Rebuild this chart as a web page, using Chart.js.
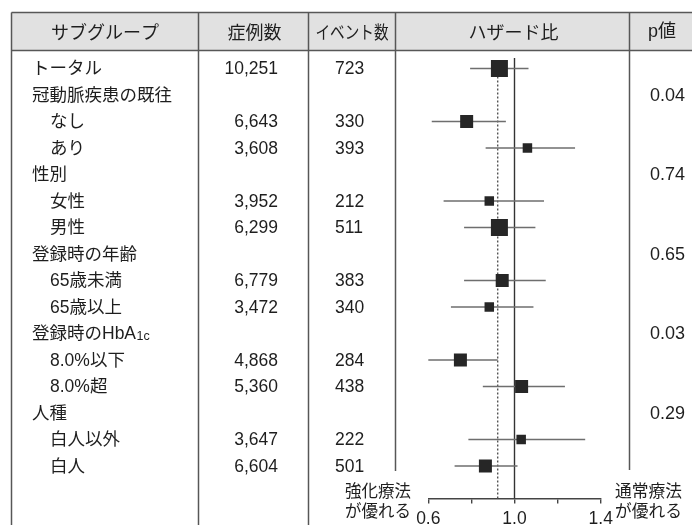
<!DOCTYPE html>
<html><head><meta charset="utf-8">
<script src="https://cdn.jsdelivr.net/npm/chart.js@4"></script>
<style>html,body{margin:0;padding:0;background:#fff;}canvas{display:block;}</style>
</head><body>
<div style="width:692px;height:525px;position:relative"><canvas id="c" width="692" height="525"></canvas></div>
<script>
// ---------- data ----------
const headers = ['サブグループ', '症例数', 'イベント数', 'ハザード比', 'p値'];
const subgroups = ['トータル', '冠動脈疾患の既往', 'なし', 'あり', '性別', '女性', '男性', '登録時の年齢', '65歳未満', '65歳以上', '登録時のHbA1c', '8.0%以下', '8.0%超', '人種', '白人以外', '白人'];
const levels = [0, 0, 1, 1, 0, 1, 1, 0, 1, 1, 0, 1, 1, 0, 1, 1];
const cases = ['10,251', '', '6,643', '3,608', '', '3,952', '6,299', '', '6,779', '3,472', '', '4,868', '5,360', '', '3,647', '6,604'];
const events = ['723', '', '330', '393', '', '212', '511', '', '383', '340', '', '284', '438', '', '222', '501'];
const pValues = ['', '0.04', '', '', '0.74', '', '', '0.65', '', '', '0.03', '', '', '0.29', '', ''];
const hazardRatio = [0.930, null, 0.778, 1.060, null, 0.883, 0.930, null, 0.943, 0.883, null, 0.749, 1.033, null, 1.031, 0.865];
const ciLower = [0.794, null, 0.616, 0.866, null, 0.671, 0.766, null, 0.766, 0.705, null, 0.586, 0.853, null, 0.786, 0.722];
const ciUpper = [1.065, null, 0.960, 1.281, null, 1.137, 1.097, null, 1.145, 1.088, null, 0.922, 1.234, null, 1.328, 1.014];
const overallHR = 0.922;
const nullHR = 1.0;
const tickValues = [0.6, 0.8, 1.0, 1.2, 1.4];
const tickLabels = ['0.6', '', '1.0', '', '1.4'];
const leftNote = ['強化療法', 'が優れる'];
const rightNote = ['通常療法', 'が優れる'];

// ---------- style ----------
const markerSide = [17, null, 13, 9.5, null, 9.5, 17, null, 13, 9.5, null, 13, 13, null, 9.5, 13];
const FONT = '"Liberation Sans", "Noto Sans CJK JP", sans-serif';
const JFONT = '"Noto Sans CJK JP", "Liberation Sans", sans-serif';
const LINE = '#575757';
const TEXT = '#1e1e1e';
const COL = { left: 11.5, c1: 198.5, c2: 308.5, c3: 395.5, c4: 629.5, right: 692 };
const HEAD = { top: 12.5, bottom: 50.5 };
const Y_MIN = -0.698, Y_MAX = 16.226;

// ---------- datasets ----------
const rows = subgroups.map((_, i) => i);
const datasets = [];
const hrRows = rows.filter(i => hazardRatio[i] !== null);
datasets.push({
  type: 'scatter',
  label: 'HR',
  order: 0,
  data: hrRows.map(i => ({ x: hazardRatio[i], y: i })),
  pointStyle: 'rect',
  pointRadius: hrRows.map(i => markerSide[i] / Math.SQRT2),
  pointHoverRadius: hrRows.map(i => markerSide[i] / Math.SQRT2),
  backgroundColor: '#262626',
  borderWidth: 0
});
rows.filter(i => ciLower[i] !== null).forEach(i => {
  datasets.push({
    type: 'line',
    label: 'CI ' + subgroups[i],
    order: 1,
    data: [{ x: ciLower[i], y: i }, { x: ciUpper[i], y: i }],
    borderColor: '#6e6e6e',
    borderWidth: 1.4,
    pointRadius: 0,
    fill: false
  });
});
datasets.push({
  type: 'line', label: 'null', order: 2,
  data: [{ x: nullHR, y: -0.40 }, { x: nullHR, y: Y_MAX }],
  borderColor: '#333', borderWidth: 1.4, pointRadius: 0, fill: false
});
datasets.push({
  type: 'line', label: 'overall', order: 2,
  data: [{ x: overallHR, y: 0 }, { x: overallHR, y: Y_MAX }],
  borderColor: '#555', borderWidth: 1.4, borderDash: [2, 2], pointRadius: 0, fill: false
});

// ---------- table plugin ----------
const tablePlugin = {
  id: 'table',
  beforeDraw(chart) {
    const ctx = chart.ctx;
    const H = chart.height;
    ctx.save();
    ctx.fillStyle = '#fff';
    ctx.fillRect(0, 0, chart.width, H);
    ctx.fillStyle = '#e1e1e1';
    ctx.fillRect(COL.left, HEAD.top, COL.right - COL.left, HEAD.bottom - HEAD.top);
    ctx.strokeStyle = LINE;
    ctx.lineWidth = 1.5;
    const seg = (x1, y1, x2, y2) => { ctx.beginPath(); ctx.moveTo(x1, y1); ctx.lineTo(x2, y2); ctx.stroke(); };
    seg(COL.left, HEAD.top, COL.right, HEAD.top);
    seg(COL.left, HEAD.bottom, COL.right, HEAD.bottom);
    seg(COL.left, HEAD.top, COL.left, H);
    seg(COL.c1, HEAD.top, COL.c1, H);
    seg(COL.c2, HEAD.top, COL.c2, H);
    seg(COL.c3, HEAD.top, COL.c3, 471);
    seg(COL.c4, HEAD.top, COL.c4, 470);
    // header text
    ctx.fillStyle = TEXT;
    ctx.textBaseline = 'middle';
    ctx.textAlign = 'center';
    ctx.font = '18px ' + JFONT;
    const hy = 32;
    ctx.fillText(headers[0], (COL.left + COL.c1) / 2, hy);
    ctx.fillText(headers[1], (COL.c1 + COL.c2) / 2 + 1, hy);
    ctx.fillText(headers[2], (COL.c2 + COL.c3) / 2, hy, 73);
    ctx.fillText(headers[3], (COL.c3 + COL.c4) / 2 + 1, hy);
    ctx.font = '18px ' + FONT;
    ctx.fillText(headers[4], 662, hy);
    ctx.restore();
  },
  afterDraw(chart) {
    const ctx = chart.ctx;
    const ys = chart.scales.y;
    ctx.save();
    ctx.fillStyle = TEXT;
    ctx.textBaseline = 'middle';
    subgroups.forEach((label, i) => {
      const y = ys.getPixelForValue(i) + 1;
      const x = levels[i] === 0 ? 32 : 50;
      ctx.textAlign = 'left';
      ctx.font = '17.5px ' + FONT;
      const m = label.match(/^(.*HbA)(1c)$/);
      if (m) {
        ctx.fillText(m[1], x, y);
        const w = ctx.measureText(m[1]).width;
        ctx.font = '12.5px ' + FONT;
        ctx.fillText(m[2], x + w + 0.5, y + 2);
      } else {
        ctx.fillText(label, x, y);
      }
      ctx.font = '17.5px ' + FONT;
      if (cases[i]) { ctx.textAlign = 'right'; ctx.fillText(cases[i], 278, y); }
      if (events[i]) { ctx.textAlign = 'left'; ctx.fillText(events[i], 335, y); }
      if (pValues[i]) { ctx.textAlign = 'left'; ctx.font = '18px ' + FONT; ctx.fillText(pValues[i], 650, y); }
    });
    // notes
    ctx.font = '17px ' + JFONT;
    ctx.textAlign = 'left';
    ctx.fillText(leftNote[0], 345, 491, 66);
    ctx.fillText(leftNote[1], 345, 511, 66);
    ctx.fillText(rightNote[0], 615, 491, 67);
    ctx.fillText(rightNote[1], 615, 511, 67);
    ctx.restore();
  }
};

new Chart(document.getElementById('c'), {
  type: 'scatter',
  data: { datasets },
  plugins: [tablePlugin],
  options: {
    responsive: false,
    devicePixelRatio: 1,
    animation: false,
    events: [],
    layout: { padding: { left: 428.3, right: 91.3, top: 50, bottom: 0 } },
    plugins: { legend: { display: false }, tooltip: { enabled: false } },
    scales: {
      x: {
        type: 'linear', min: 0.6, max: 1.4,
        afterBuildTicks: s => { s.ticks = tickValues.map(v => ({ value: v })); },
        afterFit: s => { s.height = 26.5; },
        grid: { display: true, drawOnChartArea: false, drawTicks: true, tickLength: 5, color: '#444', lineWidth: 1.4 },
        border: { display: true, color: '#444', width: 1.4 },
        ticks: {
          autoSkip: false, maxRotation: 0, padding: 5,
          color: TEXT, font: { family: FONT, size: 17.5 },
          callback: (v, i) => tickLabels[i]
        }
      },
      y: {
        type: 'linear', reverse: true, min: Y_MIN, max: Y_MAX, display: false
      }
    }
  }
});
</script>
</body></html>
